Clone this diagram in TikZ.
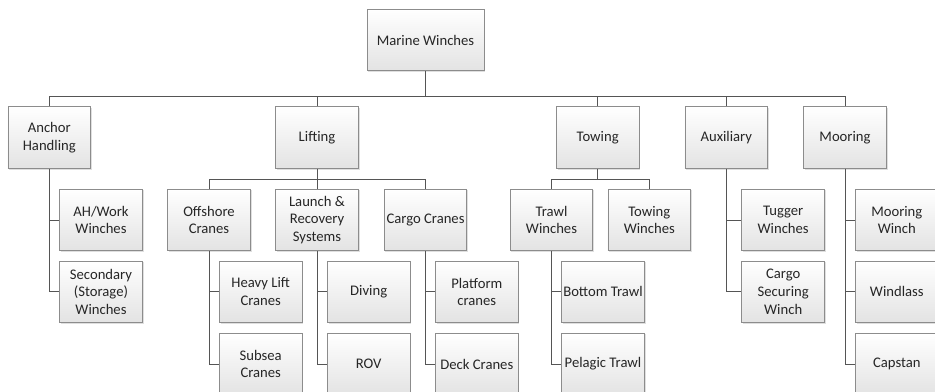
\documentclass[tikz,border=0pt]{standalone}
\usepackage{fontspec}
\setmainfont{Carlito}
\usetikzlibrary{shadows}
\definecolor{boxline}{HTML}{8C8C8C}
\definecolor{conn}{HTML}{555555}
\definecolor{txt}{HTML}{262626}
\begin{document}
\begin{tikzpicture}[x=0.75pt,y=-0.75pt,
  box/.style={draw=boxline, line width=0.6pt, top color=white, bottom color=gray!22,
    minimum width=62pt, minimum height=46.3pt, inner sep=1pt, align=center,
    text=txt, font=\fontsize{11}{13.2}\selectfont,
    drop shadow={shadow xshift=0.9pt, shadow yshift=-0.9pt, opacity=0.25}},
  conn/.style={draw=conn, line width=0.7pt}]
\useasboundingbox (0,0) rectangle (935,392);
\clip (0,0) rectangle (935,392);
\coordinate (busA) at (0,96.7);
\coordinate (busB) at (0,179);
% root
\node[box, minimum width=87.75pt, minimum height=45.9pt] (root) at (425.5,40) {Marine Winches};
% level 1
\node[box] (anchor) at (49.3,137.5) {Anchor\\Handling};
\node[box] (lifting) at (317,137.5) {Lifting};
\node[box] (towing) at (597.7,137.5) {Towing};
\node[box] (aux) at (726.3,137.5) {Auxiliary};
\node[box] (mooring) at (845,137.5) {Mooring};
% anchor children
\node[box] (ahw) at (101,220) {AH/Work\\Winches};
\node[box] (sec) at (101,291.8) {Secondary\\(Storage)\\Winches};
% lifting children
\node[box] (offshore) at (209,220) {Offshore\\Cranes};
\node[box] (lrs) at (317,220) {Launch \&\\Recovery\\Systems};
\node[box] (cargo) at (425.5,220) {Cargo Cranes};
\node[box] (heavy) at (260.7,291.8) {Heavy Lift\\Cranes};
\node[box] (subsea) at (260.7,364) {Subsea\\Cranes};
\node[box] (diving) at (368.7,291.8) {Diving};
\node[box] (rov) at (368.7,364) {ROV};
\node[box] (platform) at (476.8,291.8) {Platform\\cranes};
\node[box] (deck) at (476.8,364) {Deck Cranes};
% towing children
\node[box] (trawl) at (551.5,220) {Trawl\\Winches};
\node[box] (towwin) at (649.3,220) {Towing\\Winches};
\node[box] (bottom) at (603,291.8) {Bottom Trawl};
\node[box] (pelagic) at (603,364) {Pelagic Trawl};
% auxiliary children
\node[box] (tugger) at (783.2,220) {Tugger\\Winches};
\node[box] (cargosec) at (783.2,291.8) {Cargo\\Securing\\Winch};
% mooring children
\node[box] (moorwinch) at (896.8,220) {Mooring\\Winch};
\node[box] (windlass) at (896.8,291.8) {Windlass};
\node[box] (capstan) at (896.8,364) {Capstan};
% connectors level 0-1
\draw[conn] (root.south) -- (root.south |- busA);
\draw[conn] (anchor.north) -- (anchor.north |- busA) -- (mooring.north |- busA) -- (mooring.north);
\draw[conn] (lifting.north) -- (lifting.north |- busA);
\draw[conn] (towing.north) -- (towing.north |- busA);
\draw[conn] (aux.north) -- (aux.north |- busA);
% anchor
\draw[conn] (anchor.south) |- (ahw.west);
\draw[conn] (anchor.south) |- (sec.west);
% lifting
\draw[conn] (lifting.south) -- (lrs.north);
\draw[conn] (offshore.north) -- (offshore.north |- busB) -- (cargo.north |- busB) -- (cargo.north);
\draw[conn] (offshore.south) |- (heavy.west);
\draw[conn] (offshore.south) |- (subsea.west);
\draw[conn] (lrs.south) |- (diving.west);
\draw[conn] (lrs.south) |- (rov.west);
\draw[conn] (cargo.south) |- (platform.west);
\draw[conn] (cargo.south) |- (deck.west);
% towing
\draw[conn] (towing.south) -- (towing.south |- busB);
\draw[conn] (trawl.north) -- (trawl.north |- busB) -- (towwin.north |- busB) -- (towwin.north);
\draw[conn] (trawl.south) |- (bottom.west);
\draw[conn] (trawl.south) |- (pelagic.west);
% auxiliary
\draw[conn] (aux.south) |- (tugger.west);
\draw[conn] (aux.south) |- (cargosec.west);
% mooring
\draw[conn] (mooring.south) |- (moorwinch.west);
\draw[conn] (mooring.south) |- (windlass.west);
\draw[conn] (mooring.south) |- (capstan.west);
\end{tikzpicture}
\end{document}
